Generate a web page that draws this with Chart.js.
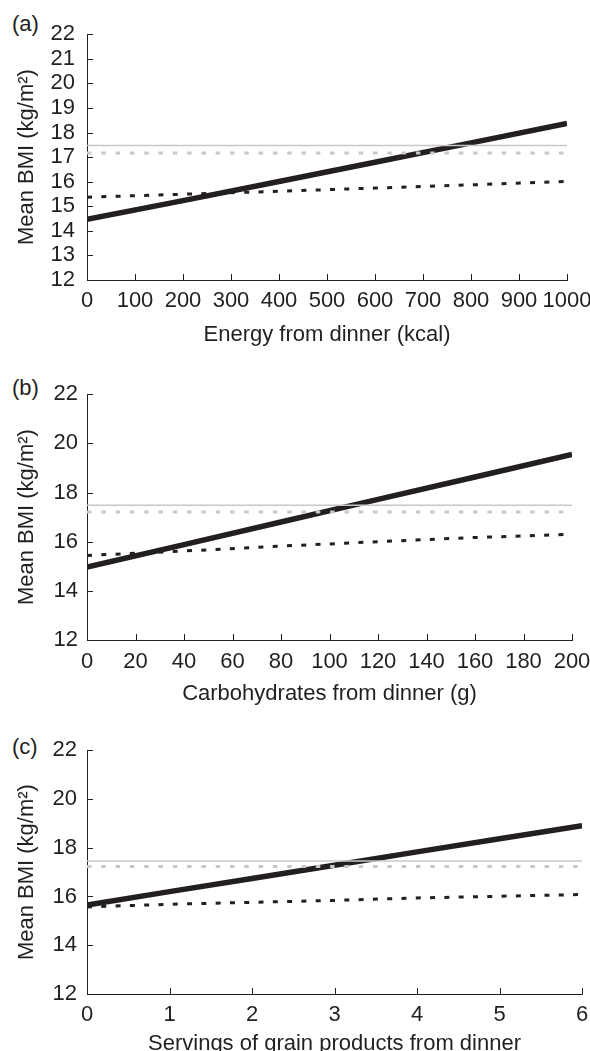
<!DOCTYPE html>
<html>
<head>
<meta charset="utf-8">
<script src="https://cdn.jsdelivr.net/npm/chart.js@4"></script>
<style>
  html, body { margin: 0; padding: 0; background: #fff; overflow: hidden; }
  body { width: 590px; height: 1051px; position: relative; }
  canvas { position: absolute; left: 0; }
  .tag { position: absolute; left: 12px; font: 22px "Liberation Sans", Arial, sans-serif; line-height: 26px; color: #231f20; }
</style>
</head>
<body>
<div class="tag" style="top:11px">(a)</div>
<div class="tag" style="top:375px">(b)</div>
<div class="tag" style="top:734px">(c)</div>
<canvas id="chartA" width="590" height="339" style="top:9px"></canvas>
<canvas id="chartB" width="590" height="335" style="top:372px"></canvas>
<canvas id="chartC" width="590" height="330" style="top:727px"></canvas>
<script>
// panel (a) energy from dinner
var energyX = [0, 200, 400, 600, 800, 1000];
var energyBmi = [14.47, 15.23, 16.01, 16.79, 17.58, 18.37];
var energyBmiDash = [15.37, 15.49, 15.61, 15.74, 15.87, 16.01];
var energyRef = [17.47, 17.47];
var energyRefDash = [17.17, 17.17];

// panel (b) carbohydrates from dinner
var carbX = [0, 40, 80, 120, 160, 200];
var carbBmi = [14.97, 15.88, 16.80, 17.72, 18.63, 19.55];
var carbBmiDash = [15.44, 15.62, 15.82, 16.00, 16.17, 16.30];
var carbRef = [17.48, 17.48];
var carbRefDash = [17.21, 17.21];

// panel (c) servings of grain products
var grainX = [0, 1, 2, 3, 4, 5, 6];
var grainBmi = [15.65, 16.20, 16.74, 17.28, 17.83, 18.37, 18.90];
var grainBmiDash = [15.57, 15.68, 15.76, 15.84, 15.94, 16.01, 16.08];
var grainRef = [17.46, 17.46];
var grainRefDash = [17.23, 17.23];

var ink = '#231f20';
var font = { family: '"Liberation Sans", Arial, sans-serif', size: 22 };

function pts(xs, ys) {
    return xs.map(function (x, i) { return { x: x, y: ys[i] }; });
}

// small ticks pointing into the plot
var inwardTicks = {
    id: 'inwardTicks',
    afterDraw: function (chart) {
        var ctx = chart.ctx, xs = chart.scales.x, ys = chart.scales.y;
        ctx.save();
        ctx.strokeStyle = ink;
        ctx.lineWidth = 1;
        ctx.beginPath();
        xs.ticks.forEach(function (t) {
            var px = Math.round(xs.getPixelForValue(t.value)) + 0.5;
            ctx.moveTo(px, ys.bottom);
            ctx.lineTo(px, ys.bottom - 6);
        });
        ys.ticks.forEach(function (t) {
            var py = Math.round(ys.getPixelForValue(t.value)) + 0.5;
            ctx.moveTo(xs.left, py);
            ctx.lineTo(xs.left + 6, py);
        });
        ctx.stroke();
        ctx.restore();
    }
};

function makeChart(id, p) {
    var xMax = p.x[p.x.length - 1];
    new Chart(document.getElementById(id), {
        type: 'line',
        data: {
            datasets: [
                { data: pts([0, xMax], p.refDash), borderColor: '#c8c8c8', borderWidth: 3, borderDash: [4.5, 9.8] },
                { data: pts([0, xMax], p.ref), borderColor: '#c8c8c8', borderWidth: 1.5 },
                { data: pts(p.x, p.bmiDash), borderColor: ink, borderWidth: 3, borderDash: [5, 9.3] },
                { data: pts(p.x, p.bmi), borderColor: ink, borderWidth: 5.5 }
            ]
        },
        options: {
            responsive: false,
            animation: false,
            events: [],
            elements: { point: { radius: 0 }, line: { tension: 0, borderCapStyle: 'butt' } },
            layout: { padding: { top: 20, right: p.padRight, left: 0, bottom: 0 } },
            plugins: { legend: { display: false }, tooltip: { enabled: false } },
            scales: {
                x: {
                    type: 'linear',
                    min: 0, max: xMax,
                    grid: { display: false, drawTicks: false },
                    border: { display: true, color: ink, width: 1 },
                    ticks: {
                        stepSize: p.xStep, color: ink, font: font, padding: p.xPad,
                        maxRotation: 0, autoSkip: false,
                        callback: function (v) { return String(v); }
                    },
                    title: { display: true, text: p.xTitle, color: ink, font: font, padding: 0 },
                    afterFit: function (s) { s.height = p.xHeight; s.paddingLeft = 0; s.paddingRight = 0; }
                },
                y: {
                    min: 12, max: 22,
                    grid: { display: false, drawTicks: false },
                    border: { display: true, color: ink, width: 1 },
                    ticks: { stepSize: p.yStep, color: ink, font: font, padding: p.yPad, autoSkip: false },
                    title: { display: true, text: 'Mean BMI (kg/m²)', color: ink, font: font, padding: { top: 14, bottom: 0 } },
                    afterFit: function (s) { s.width = 87; }
                }
            }
        },
        plugins: [inwardTicks]
    });
}

makeChart('chartA', {
    x: energyX, bmi: energyBmi, bmiDash: energyBmiDash, ref: energyRef, refDash: energyRefDash,
    xStep: 100, yStep: 1, xTitle: 'Energy from dinner (kcal)',
    padRight: 23, xHeight: 68, xPad: 8, yPad: 12
});
makeChart('chartB', {
    x: carbX, bmi: carbBmi, bmiDash: carbBmiDash, ref: carbRef, refDash: carbRefDash,
    xStep: 20, yStep: 2, xTitle: 'Carbohydrates from dinner (g)',
    padRight: 18, xHeight: 67, xPad: 9, yPad: 9
});
makeChart('chartC', {
    x: grainX, bmi: grainBmi, bmiDash: grainBmiDash, ref: grainRef, refDash: grainRefDash,
    xStep: 1, yStep: 2, xTitle: 'Servings of grain products from dinner',
    padRight: 8, xHeight: 63, xPad: 8, yPad: 10
});
</script>
</body>
</html>
